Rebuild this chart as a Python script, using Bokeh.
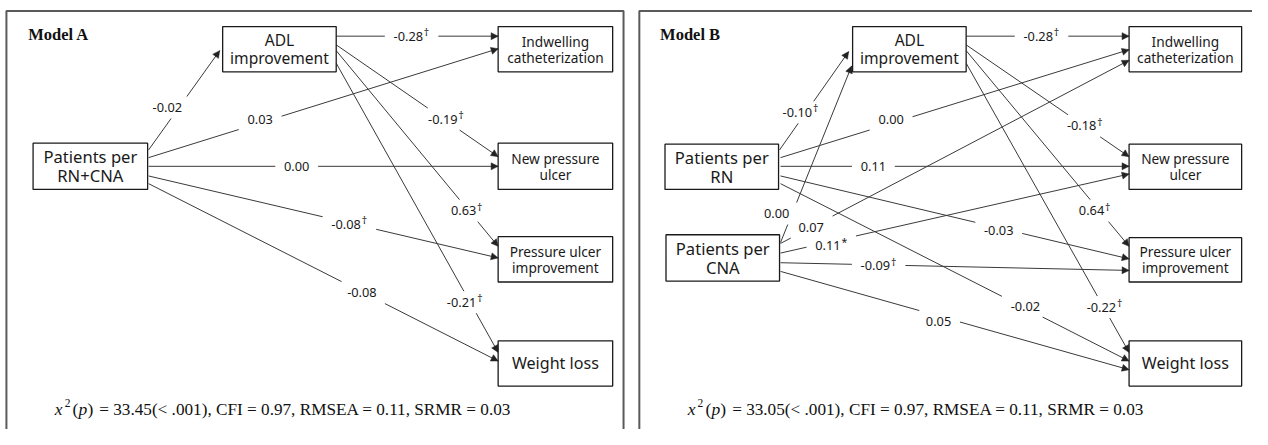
import math
from bokeh.plotting import figure
from bokeh.models import Range1d, Arrow, NormalHead, ColumnDataSource
from bokeh.core.properties import value
from bokeh.embed import file_html
from bokeh.resources import INLINE

# ---------------- data ----------------
model_names = ["Model A", "Model B"]

node_ids_a = ["SRC", "ADL", "IC", "NPU", "PUI", "WL"]
node_text_a = [["Patients per", "RN+CNA"], ["ADL", "improvement"],
               ["Indwelling", "catheterization"], ["New pressure", "ulcer"],
               ["Pressure ulcer", "improvement"], ["Weight loss"]]
node_ids_b = ["RN", "CNA", "ADL", "IC", "NPU", "PUI", "WL"]
node_text_b = [["Patients per", "RN"], ["Patients per", "CNA"], ["ADL", "improvement"],
               ["Indwelling", "catheterization"], ["New pressure", "ulcer"],
               ["Pressure ulcer", "improvement"], ["Weight loss"]]

edge_from_a = ["SRC", "SRC", "SRC", "SRC", "SRC", "ADL", "ADL", "ADL", "ADL"]
edge_to_a = ["ADL", "IC", "NPU", "PUI", "WL", "IC", "NPU", "PUI", "WL"]
coef_a = [-0.02, 0.03, 0.00, -0.08, -0.08, -0.28, -0.19, 0.63, -0.21]
sig_a = ["", "", "", "†", "", "†", "†", "†", "†"]

edge_from_b = ["RN", "CNA", "RN", "RN", "RN", "RN", "CNA", "CNA", "CNA", "CNA", "ADL", "ADL", "ADL", "ADL"]
edge_to_b = ["ADL", "ADL", "IC", "NPU", "PUI", "WL", "IC", "NPU", "PUI", "WL", "IC", "NPU", "PUI", "WL"]
coef_b = [-0.10, 0.00, 0.00, 0.11, -0.03, -0.02, 0.07, 0.11, -0.09, 0.05, -0.28, -0.18, 0.64, -0.22]
sig_b = ["†", "", "", "", "", "", "", "*", "†", "", "†", "†", "†", "†"]

chi2 = [33.45, 33.05]
chi2_p = ["< .001", "< .001"]
cfi = [0.97, 0.97]
rmsea = [0.11, 0.11]
srmr = [0.03, 0.03]

# ---------------- layout (pixel positions) ----------------
box_a = {"SRC": (33, 149, 148, 196), "ADL": (225, 340, 27, 74), "IC": (504, 620, 27, 74),
         "NPU": (504, 620, 148, 196), "PUI": (504, 620, 245, 292), "WL": (504, 620, 353, 400)}
font_a = {"SRC": 16.6, "ADL": 15.6, "IC": 13.7, "NPU": 13.7, "PUI": 13.7, "WL": 16.1}
geom_a = [((150, 155), (222, 52), (169, 111)),
          ((150, 163), (504, 50), (263, 123)),
          ((150, 172), (504, 172), (300, 172)),
          ((150, 182), (504, 267), (350, 232)),
          ((150, 190), (504, 374), (366, 303)),
          ((340, 37), (504, 37), (413, 37)),
          ((340, 46), (504, 162), (448, 123)),
          ((340, 52), (504, 255), (469, 218)),
          ((340, 65), (504, 365), (467, 313))]

box_b = {"RN": (673, 788, 149, 196), "CNA": (674, 789, 243, 291), "ADL": (863, 978, 27, 74),
         "IC": (1143, 1257, 27, 74), "NPU": (1143, 1257, 149, 196),
         "PUI": (1143, 1257, 246, 292), "WL": (1143, 1257, 353, 400)}
font_b = {"RN": 16.6, "CNA": 16.6, "ADL": 15.6, "IC": 13.7, "NPU": 13.7, "PUI": 13.7, "WL": 16.1}
geom_b = [((789, 155), (859, 53), (807, 116)),
          ((790, 251), (862, 68), (786, 221)),
          ((790, 163), (1143, 51), (902, 123)),
          ((790, 172), (1143, 172), (884, 172)),
          ((790, 182), (1143, 268), (1011, 239)),
          ((790, 190), (1143, 374), (1038, 317)),
          ((790, 252), (1143, 62), (821, 235)),
          ((790, 262), (1143, 180), (838, 254)),
          ((790, 272), (1143, 280), (886, 275)),
          ((790, 281), (1143, 383), (950, 333)),
          ((978, 37), (1143, 37), (1051, 37)),
          ((978, 46), (1143, 162), (1095, 130)),
          ((978, 52), (1143, 255), (1105, 218)),
          ((978, 65), (1143, 365), (1115, 318))]

panel_a = (6, 631, 11)
panel_b = (647, 1300, 11)
title_pos = [(28, 35), (668, 35)]
footer_x = [55, 696]
footer_y = 424

W, H = 1252, 429
REF_W, REF_H = 1268, 445
LBL = 12.8
SUP = 10.4
FONT = "Noto Sans"
SERIF = "Liberation Serif"

p = figure(width=W, height=H, x_range=Range1d(0, REF_W), y_range=Range1d(REF_H, 0),
           output_backend="svg", toolbar_location=None, x_axis_type=None, y_axis_type=None,
           min_border=0, outline_line_color=None, background_fill_color="white",
           border_fill_color="white")
p.grid.visible = False

CW = {"-": 0.322, ".": 0.268}


def text_w(s, size):
    return sum(CW.get(c, 0.572) for c in s) * size


def clip_out(p0, p1, rect):
    x0, y0 = p0
    x1, y1 = p1
    dx, dy = x1 - x0, y1 - y0
    xmin, xmax, ymin, ymax = rect
    t0, t1 = 0.0, 1.0
    for pp, qq in ((-dx, x0 - xmin), (dx, xmax - x0), (-dy, y0 - ymin), (dy, ymax - y0)):
        if pp == 0:
            if qq < 0:
                return [(p0, p1)]
            continue
        r = qq / pp
        if pp < 0:
            t0 = max(t0, r)
        else:
            t1 = min(t1, r)
    if t0 >= t1:
        return [(p0, p1)]
    segs = []
    if t0 > 0:
        segs.append((p0, (x0 + dx * t0, y0 + dy * t0)))
    if t1 < 1:
        segs.append(((x0 + dx * t1, y0 + dy * t1), p1))
    return segs


def draw_model(boxes, fonts, ids, texts, geom, coefs, sigs, panel, title, tpos, fx, k):
    # panel border
    l, r, t = panel
    p.line(x=[l, l, r, r], y=[470, t, t, 470], line_color="#5a5a5a", line_width=2)
    p.text(x=[tpos[0]], y=[tpos[1]], text=[title], text_font=value(SERIF),
           text_font_style="bold", text_font_size=value("16.5px"), text_baseline="middle",
           text_align="left", text_color="#111111")
    xs, ys = [], []
    ax0, ay0, ax1, ay1 = [], [], [], []
    lx, ly, lt = [], [], []
    sx, sy, st = [], [], []
    for (p0, p1, lab), c, s in zip(geom, coefs, sigs):
        txt = f"{c:.2f}"
        w = text_w(txt, LBL)
        extra = (0.5 * SUP + 1.5) if s else 0
        rect = (lab[0] - w / 2 - 9, lab[0] + w / 2 + extra + 9,
                lab[1] - LBL / 2 - 5, lab[1] + LBL / 2 + 5)
        for a, b in clip_out(p0, p1, rect):
            xs.append([a[0], b[0]])
            ys.append([a[1], b[1]])
        L = math.hypot(p1[0] - p0[0], p1[1] - p0[1])
        ux, uy = (p1[0] - p0[0]) / L, (p1[1] - p0[1]) / L
        ax0.append(p1[0] - ux * 10)
        ay0.append(p1[1] - uy * 10)
        ax1.append(p1[0])
        ay1.append(p1[1])
        lx.append(lab[0])
        ly.append(lab[1])
        lt.append(txt)
        if s:
            sx.append(lab[0] + w / 2 + 1)
            sy.append(lab[1] - 4)
            st.append(s)
    p.multi_line(xs=xs, ys=ys, line_color="#3a3a3a", line_width=1)
    src = ColumnDataSource(dict(x0=ax0, y0=ay0, x1=ax1, y1=ay1))
    p.add_layout(Arrow(end=NormalHead(size=7, fill_color="#222222", line_color="#222222",
                                      line_width=0.5),
                       x_start="x0", y_start="y0", x_end="x1", y_end="y1",
                       line_alpha=0, source=src))
    p.text(x=lx, y=ly, text=lt, text_font=value(FONT), text_font_size=value(f"{LBL}px"),
           text_align="center", text_baseline="middle", text_color="#1a1a1a")
    p.text(x=sx, y=sy, text=st, text_font=value(FONT), text_font_size=value(f"{SUP}px"),
           text_align="left", text_baseline="middle", text_color="#1a1a1a")
    # boxes
    for nid, lines in zip(ids, texts):
        x0, x1, y0, y1 = boxes[nid]
        p.quad(left=[x0], right=[x1], top=[y0], bottom=[y1], fill_color="white",
               line_color="#1a1a1a", line_width=1.3)
        fs = fonts[nid]
        cy = (y0 + y1) / 2
        n = len(lines)
        step = fs * 1.2
        yy = [cy + (i - (n - 1) / 2) * step for i in range(n)]
        p.text(x=[(x0 + x1) / 2] * n, y=yy, text=lines, text_font=value(FONT),
               text_font_size=value(f"{fs}px"), text_align="center", text_baseline="middle",
               text_color="#1a1a1a")
    # footer
    rest = (f"= {chi2[k]:.2f}({chi2_p[k]}), CFI = {cfi[k]:.2f}, "
            f"RMSEA = {rmsea[k]:.2f}, SRMR = {srmr[k]:.2f}")
    pieces = [("x", 0, 0, "italic", 17.5), ("2", 10, -6, "normal", 11.5),
              ("(", 18, 0, "normal", 17.5), ("p", 24, 0, "italic", 17.5),
              (")", 33, 0, "normal", 17.5), (rest, 45, 0, "normal", 17.2)]
    for s, dx, dy, style, fs in pieces:
        p.text(x=[fx + dx], y=[footer_y + dy], text=[s], text_font=value(SERIF),
               text_font_style=style, text_font_size=value(f"{fs}px"), text_align="left",
               text_baseline="middle", text_color="#111111")


draw_model(box_a, font_a, node_ids_a, node_text_a, geom_a, coef_a, sig_a, panel_a,
           model_names[0], title_pos[0], footer_x[0], 0)
draw_model(box_b, font_b, node_ids_b, node_text_b, geom_b, coef_b, sig_b, panel_b,
           model_names[1], title_pos[1], footer_x[1], 1)

open("out.html", "w").write(file_html(p, INLINE))
